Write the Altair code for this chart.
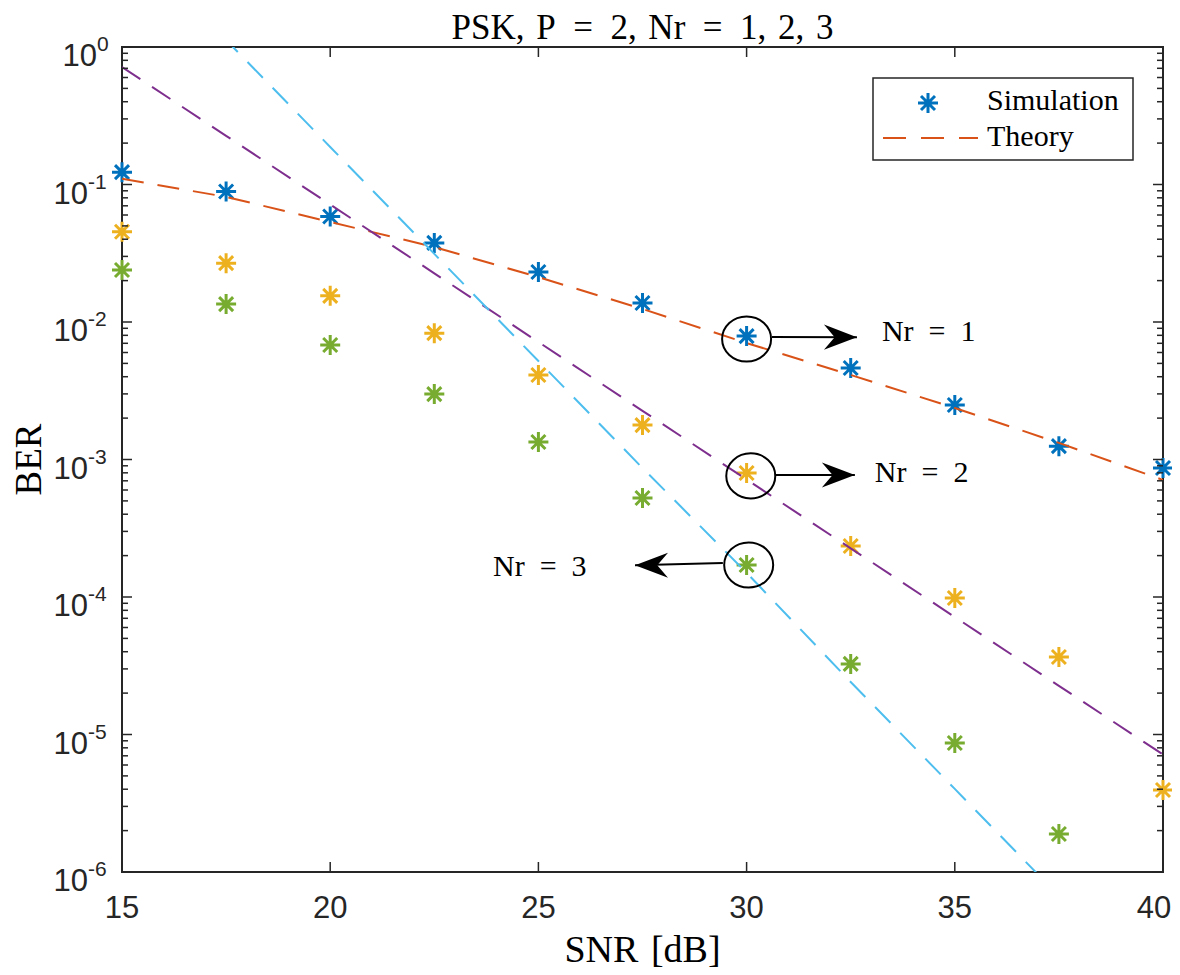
import altair as alt
import pandas as pd

# ---------------- data ----------------
snr = [15, 17.5, 20, 22.5, 25, 27.5, 30, 32.5, 35, 37.5, 40]
sim_nr1 = [0.123, 0.0890, 0.0585, 0.0376, 0.0231, 0.01375, 0.0079, 0.00463, 0.00249, 0.00125, 0.000867]
sim_nr2 = [0.0453, 0.0268, 0.0155, 0.0083, 0.00412, 0.00178, 0.000798, 0.000235, 9.84e-5, 3.66e-5, 3.95e-6]
sim_nr3 = [0.0239, 0.0135, 0.0068, 0.00299, 0.00134, 0.000525, 0.000171, 3.26e-5, 8.67e-6, 1.89e-6]
theory_nr1 = [0.110, 0.0813, 0.0534, 0.0351, 0.0212, 0.01244, 0.00703, 0.00412, 0.00237, 0.00132, 0.00071]
theory_nr2 = [0.715, 0.226, 0.0715, 0.0226, 0.00715, 0.00226, 7.15e-4, 2.26e-4, 7.15e-5, 2.26e-5, 7.15e-6]
theory_nr3 = [6.75, 1.125, 0.1874, 0.0313, 0.0052, 8.67e-4, 1.50e-4, 2.41e-5, 4.02e-6, 6.7e-7, 1.11e-7]

x_ticks = [15, 20, 25, 30, 35, 40]
x_tick_labels = ["15", "20", "25", "30", "35", "40"]
y_ticks = [1, 1e-1, 1e-2, 1e-3, 1e-4, 1e-5, 1e-6]
y_exps = ["0", "-1", "-2", "-3", "-4", "-5", "-6"]
y_minor = [m * 10.0 ** k for k in range(-6, 0) for m in range(2, 10)]

title_text = "PSK,\u2004P\u2002=\u20022,\u2004Nr\u2002=\u20021,\u20042,\u20043"
x_title = "SNR\u2004[dB]"
y_title = "BER"
legend_labels = ["Simulation", "Theory"]

circ_x = [30.0, 30.1, 30.05]
circ_y = [0.00752, 0.00076, 0.000171]
arrow_x1 = [30.61, 30.68, 29.43]
arrow_y1 = [0.00778, 0.000771, 0.000177]
arrow_x2 = [32.65, 32.60, 27.32]
arrow_y2 = [0.00776, 0.000771, 0.000170]
arrow_dir = ["right", "right", "left"]
label_x = [33.25, 33.08, 23.91]
label_y = [0.00846, 0.000798, 0.000165]
label_text = ["Nr\u2002=\u20021", "Nr\u2002=\u20022", "Nr\u2002=\u20023"]

# ---------------- styles ----------------
BLUE, ORANGE, YELLOW = "#0072BD", "#D95319", "#EDB120"
PURPLE, GREEN, CYAN = "#7E2F8E", "#77AC30", "#4DBEEE"
AX = "#262626"
SERIF = "Liberation Serif"
SANS = "Liberation Sans"
W, H = 1041, 825
AST = "M0,-1L0,1M-1,0L1,0M-0.7,-0.7L0.7,0.7M-0.7,0.7L0.7,-0.7"
ELL = "M-1,0A1,0.92,0,1,1,1,0A1,0.92,0,1,1,-1,0Z"
HEAD = "M0,0L-2,-0.76L-1.35,0L-2,0.76Z"

xs = alt.Scale(domain=[15, 40], nice=False, zero=False)
ys = alt.Scale(type="log", domain=[1e-6, 1], nice=False)


def X(f):
    return alt.X(f, scale=xs, axis=None)


def Y(f):
    return alt.Y(f, scale=ys, axis=None)


layers = []


def sim_layer(vals, color):
    df = pd.DataFrame({"snr": snr[:len(vals)], "ber": vals})
    return alt.Chart(df).mark_point(shape=AST, size=400, filled=False, strokeWidth=3,
                                    opacity=1).encode(
        x=X("snr:Q"), y=Y("ber:Q"), color=alt.value(color))


def theory_layer(vals, color):
    df = pd.DataFrame({"snr": snr[:len(vals)], "ber": vals})
    return alt.Chart(df).mark_line(clip=True, strokeDash=[22, 14], strokeWidth=2).encode(
        x=X("snr:Q"), y=Y("ber:Q"), color=alt.value(color))


layers.append(sim_layer(sim_nr1, BLUE))
layers.append(sim_layer(sim_nr2, YELLOW))
layers.append(sim_layer(sim_nr3, GREEN))
layers.append(theory_layer(theory_nr1, ORANGE))
layers.append(theory_layer(theory_nr2, PURPLE))
layers.append(theory_layer(theory_nr3, CYAN))

# ---- inward ticks (box style) ----
ymaj = pd.DataFrame({"v": y_ticks})
ymin = pd.DataFrame({"v": y_minor})
xmaj = pd.DataFrame({"v": x_ticks, "t": x_tick_labels})
for df, ln in ((ymaj, 10), (ymin, 6)):
    for x0, x1 in ((0, ln), (W - ln, W)):
        layers.append(alt.Chart(df).mark_rule(color=AX, strokeWidth=1.5).encode(
            x=alt.value(x0), x2=alt.value(x1), y=Y("v:Q")))
for y0, y1 in ((H - 10, H), (0, 10)):
    layers.append(alt.Chart(xmaj).mark_rule(color=AX, strokeWidth=1.5).encode(
        y=alt.value(y0), y2=alt.value(y1), x=X("v:Q")))

# ---- x tick labels (last one nudged so it stays inside the page) ----
for cond, ddx in (("datum.v < 40", 0), ("datum.v >= 40", -9)):
    layers.append(alt.Chart(xmaj).transform_filter(cond).mark_text(
        align="center", baseline="alphabetic", font=SANS, fontSize=31, color=AX,
        dx=ddx).encode(x=X("v:Q"), y=alt.value(H + 46), text="t:N"))

# ---- y tick labels 10^k ----
ylab = pd.DataFrame({"v": y_ticks, "e": y_exps})
for cond, xr in (("datum.e == '0'", -25), ("datum.e != '0'", -34)):
    base = alt.Chart(ylab).transform_filter(cond)
    layers.append(base.mark_text(align="right", baseline="alphabetic", dy=19, font=SANS,
                                 fontSize=31, color=AX).encode(
        x=alt.value(xr), y=Y("v:Q"), text=alt.value("10")))
    layers.append(base.mark_text(align="left", baseline="alphabetic", dy=4, font=SANS,
                                 fontSize=21, color=AX).encode(
        x=alt.value(xr), y=Y("v:Q"), text="e:N"))

# ---- titles ----
one = pd.DataFrame({"a": [0]})
layers.append(alt.Chart(one).mark_text(align="center", baseline="alphabetic", font=SERIF,
                                       fontSize=35, color="black").encode(
    x=alt.value(W / 2), y=alt.value(-8), text=alt.value(title_text)))
layers.append(alt.Chart(one).mark_text(align="center", baseline="alphabetic", font=SERIF,
                                       fontSize=38, color="black").encode(
    x=alt.value(W / 2), y=alt.value(H + 90), text=alt.value(x_title)))
layers.append(alt.Chart(one).mark_text(align="center", baseline="alphabetic", font=SERIF,
                                       fontSize=37, color="black", angle=270).encode(
    x=alt.value(-81), y=alt.value(H / 2), text=alt.value(y_title)))

# ---- annotations ----
circ = pd.DataFrame({"x": circ_x, "y": circ_y})
layers.append(alt.Chart(circ).mark_point(shape=ELL, size=2401, filled=False, color="black",
                                         strokeWidth=2, opacity=1).encode(
    x=X("x:Q"), y=Y("y:Q")))
arr = pd.DataFrame({"x1": arrow_x1, "y1": arrow_y1, "x2": arrow_x2, "y2": arrow_y2,
                    "d": arrow_dir})
layers.append(alt.Chart(arr).mark_rule(color="black", strokeWidth=2).encode(
    x=X("x1:Q"), x2="x2:Q", y=Y("y1:Q"), y2="y2:Q"))
for d, ang in (("right", 0), ("left", 180)):
    layers.append(alt.Chart(arr).transform_filter(f"datum.d == '{d}'").mark_point(
        shape=HEAD, size=1089, filled=True, color="black", opacity=1, angle=ang).encode(
        x=X("x2:Q"), y=Y("y2:Q")))
labs = pd.DataFrame({"x": label_x, "y": label_y, "t": label_text})
layers.append(alt.Chart(labs).mark_text(align="left", baseline="middle", font=SERIF,
                                        fontSize=30, color="black").encode(
    x=X("x:Q"), y=Y("y:Q"), text="t:N"))

# ---- legend ----
layers.append(alt.Chart(one).mark_rect(fill="white", stroke=AX, strokeWidth=1.5).encode(
    x=alt.value(751), x2=alt.value(1011), y=alt.value(31), y2=alt.value(113)))
layers.append(alt.Chart(one).mark_point(shape=AST, size=400, filled=False, strokeWidth=3,
                                        color=BLUE, opacity=1).encode(
    x=alt.value(806), y=alt.value(56)))
layers.append(alt.Chart(one).mark_rule(color=ORANGE, strokeWidth=2, strokeDash=[23, 15]).encode(
    x=alt.value(761), x2=alt.value(856), y=alt.value(91)))
for lbl, yy in zip(legend_labels, (54, 90)):
    layers.append(alt.Chart(one).mark_text(align="left", baseline="middle", font=SERIF,
                                           fontSize=30, color="black").encode(
        x=alt.value(865), y=alt.value(yy), text=alt.value(lbl)))

chart = alt.layer(*layers).properties(
    width=W, height=H,
    background="white",
    autosize=alt.AutoSizeParams(type="none"),
    padding={"left": 114, "top": 39, "right": 9, "bottom": 100},
).configure_view(stroke=AX, strokeWidth=2)

chart.save("out.html", embed_options={"renderer": "svg", "actions": False})
